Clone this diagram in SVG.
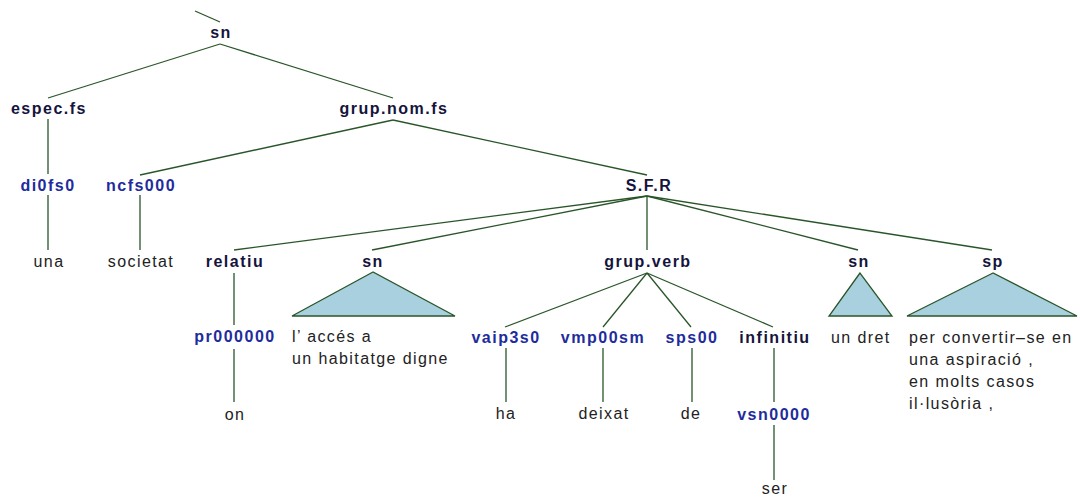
<svg xmlns="http://www.w3.org/2000/svg" width="1080" height="497" viewBox="0 0 1080 497">
<style>
.cat{font-family:"Liberation Sans",Arial,sans-serif;font-size:16px;font-weight:bold;fill:#14143c;letter-spacing:1.5px;text-anchor:middle}
.tag{font-family:"Liberation Sans",Arial,sans-serif;font-size:16px;font-weight:bold;fill:#1e2c9c;letter-spacing:1.5px;text-anchor:middle}
.leaf{font-family:"Liberation Sans",Arial,sans-serif;font-size:16px;fill:#222;letter-spacing:1.4px}
.mid{text-anchor:middle}
.edge{stroke:#2a552a;stroke-width:1.3;fill:none}
.tri{fill:#a8d0de;stroke:#2a552a;stroke-width:1.3}
</style>
<rect width="1080" height="497" fill="#fff"/>
<g id="connectors">
<line class="edge" x1="195" y1="11" x2="220" y2="22"/>
<line class="edge" x1="220" y1="44" x2="48" y2="98"/>
<line class="edge" x1="220" y1="44" x2="393" y2="98"/>
<line class="edge" x1="48" y1="119" x2="48" y2="174"/>
<line class="edge" x1="48" y1="195" x2="48" y2="250"/>
<line class="edge" x1="393" y1="120" x2="140" y2="175"/>
<line class="edge" x1="393" y1="120" x2="647" y2="175"/>
<line class="edge" x1="140" y1="195" x2="140" y2="250"/>
<line class="edge" x1="647" y1="196" x2="234" y2="250"/>
<line class="edge" x1="647" y1="196" x2="372" y2="250"/>
<line class="edge" x1="647" y1="196" x2="647" y2="250"/>
<line class="edge" x1="647" y1="196" x2="858" y2="250"/>
<line class="edge" x1="647" y1="196" x2="992" y2="250"/>
<line class="edge" x1="234" y1="273" x2="234" y2="325"/>
<line class="edge" x1="234" y1="349" x2="234" y2="402"/>
<line class="edge" x1="647" y1="273" x2="505" y2="327"/>
<line class="edge" x1="647" y1="273" x2="603" y2="327"/>
<line class="edge" x1="647" y1="273" x2="691" y2="327"/>
<line class="edge" x1="647" y1="273" x2="773" y2="327"/>
<line class="edge" x1="506" y1="348" x2="506" y2="402"/>
<line class="edge" x1="603" y1="348" x2="603" y2="402"/>
<line class="edge" x1="692" y1="348" x2="692" y2="402"/>
<line class="edge" x1="774" y1="348" x2="774" y2="402"/>
<line class="edge" x1="774" y1="425" x2="774" y2="480"/>
</g>
<g id="n-sn"><text class="cat" x="221" y="38">sn</text></g>
<g id="n-espec"><text class="cat" x="49" y="114">espec.fs</text></g>
<g id="n-grupnom"><text class="cat" x="394" y="114">grup.nom.fs</text></g>
<g id="n-di0fs0"><text class="tag" x="48" y="191">di0fs0</text></g>
<g id="n-una"><text class="leaf mid" x="49" y="267">una</text></g>
<g id="n-ncfs000"><text class="tag" x="141" y="191">ncfs000</text></g>
<g id="n-societat"><text class="leaf mid" x="141" y="267">societat</text></g>
<g id="n-sfr"><text class="cat" x="649" y="191">S.F.R</text></g>
<g id="n-relatiu"><text class="cat" x="235" y="267">relatiu</text></g>
<g id="n-pr000000"><text class="tag" x="235" y="342">pr000000</text></g>
<g id="n-on"><text class="leaf mid" x="235" y="420">on</text></g>
<g id="n-sn2">
<text class="cat" x="373" y="267">sn</text>
<polygon class="tri" points="373,272 292,316 455,316"/>
<text class="leaf" x="292" y="342">l’ accés a</text>
<text class="leaf" x="292" y="364">un habitatge digne</text>
</g>
<g id="n-grupverb"><text class="cat" x="648" y="267">grup.verb</text></g>
<g id="n-vaip3s0"><text class="tag" x="506" y="343">vaip3s0</text></g>
<g id="n-ha"><text class="leaf mid" x="506" y="419">ha</text></g>
<g id="n-vmp00sm"><text class="tag" x="603" y="343">vmp00sm</text></g>
<g id="n-deixat"><text class="leaf mid" x="604" y="419">deixat</text></g>
<g id="n-sps00"><text class="tag" x="692" y="343">sps00</text></g>
<g id="n-de"><text class="leaf mid" x="691" y="419">de</text></g>
<g id="n-infinitiu"><text class="cat" x="775" y="343">infinitiu</text></g>
<g id="n-vsn0000"><text class="tag" x="774" y="420">vsn0000</text></g>
<g id="n-ser"><text class="leaf mid" x="775" y="494">ser</text></g>
<g id="n-sn3">
<text class="cat" x="859" y="267">sn</text>
<polygon class="tri" points="860,273 829,316 892,316"/>
<text class="leaf" x="831" y="343">un dret</text>
</g>
<g id="n-sp">
<text class="cat" x="993" y="267">sp</text>
<polygon class="tri" points="993,273 907,316 1077,316"/>
<text class="leaf" x="909" y="343">per convertir–se en</text>
<text class="leaf" x="909" y="365">una aspiració ,</text>
<text class="leaf" x="909" y="387">en molts casos</text>
<text class="leaf" x="909" y="409">il·lusòria ,</text>
</g>
</svg>
